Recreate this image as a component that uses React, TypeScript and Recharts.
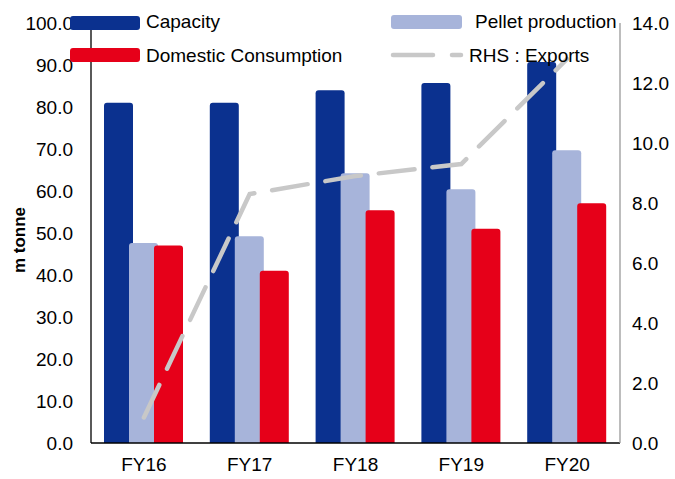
import React from 'react';
import { ComposedChart, Bar, Line, XAxis, YAxis, Legend } from 'recharts';

const categories = ['FY16', 'FY17', 'FY18', 'FY19', 'FY20'];
const capacity = [81.0, 81.0, 84.0, 85.7, 90.7];
const pelletProduction = [47.6, 49.2, 64.2, 60.4, 69.7];
const domesticConsumption = [47.0, 41.0, 55.4, 51.0, 57.1];
const exports = [0.85, 8.3, 8.9, 9.3, 12.8];
const leftTicks = [0, 10, 20, 30, 40, 50, 60, 70, 80, 90, 100];
const rightTicks = [0, 2, 4, 6, 8, 10, 12, 14];

const data = categories.map((c, i) => ({
  name: c,
  capacity: capacity[i],
  pellet: pelletProduction[i],
  domestic: domesticConsumption[i],
  exports: exports[i],
}));

const BLUE = '#0B318F';
const LIGHT = '#A7B4DA';
const RED = '#E60019';
const GRAY = '#C8C8C8';
const FONT = '"Liberation Sans", Arial, sans-serif';

const legendText: React.CSSProperties = {
  position: 'absolute',
  fontFamily: FONT,
  fontSize: 19,
  color: '#000',
  lineHeight: '20px',
  whiteSpace: 'nowrap',
};

const renderLegend = () => (
  <div style={{ position: 'relative', width: 675, height: 70 }}>
    <div style={{ position: 'absolute', left: 70, top: 16, width: 70, height: 14, background: BLUE, borderRadius: 3 }} />
    <div style={{ ...legendText, left: 146, top: 12 }}>Capacity</div>
    <div style={{ position: 'absolute', left: 70, top: 48, width: 70, height: 14, background: RED, borderRadius: 3 }} />
    <div style={{ ...legendText, left: 146, top: 46 }}>Domestic Consumption</div>
    <div style={{ position: 'absolute', left: 391, top: 15, width: 71, height: 14, background: LIGHT, borderRadius: 3 }} />
    <div style={{ ...legendText, left: 475, top: 12 }}>Pellet production</div>
    <svg style={{ position: 'absolute', left: 385, top: 48 }} width={85} height={14}>
      <line x1={8} y1={7} x2={76} y2={7} stroke={GRAY} strokeWidth={4.5} strokeLinecap="round" strokeDasharray="40 19" />
    </svg>
    <div style={{ ...legendText, left: 469, top: 46 }}>RHS : Exports</div>
  </div>
);

const YLabel = () => {
  const cx = 19;
  const cy = 240;
  return (
    <text x={cx} y={cy} transform={`rotate(-90 ${cx} ${cy})`} textAnchor="middle" dominantBaseline="central"
      style={{ fontFamily: FONT, fontSize: 17, fontWeight: 'bold', fill: '#000' }}>
      m tonne
    </text>
  );
};

export default function App() {
  const tickStyle = { fontFamily: FONT, fontSize: 19, fill: '#000' };
  return (
    <div style={{ position: 'absolute', left: 0, top: 0, width: 675, height: 479, background: '#fff' }}>
      <ComposedChart width={675} height={479} data={data} barSize={29} barGap={-4}
        margin={{ top: 23, right: 0, bottom: 6, left: 0 }}>
        <XAxis dataKey="name" tickLine={false} axisLine={{ stroke: '#000', strokeWidth: 1.3 }} tick={tickStyle}
          tickSize={6} tickMargin={9} height={30} />
        <YAxis yAxisId="left" domain={[0, 100]} ticks={leftTicks} interval={0} tickLine={false}
          axisLine={{ stroke: '#000', strokeWidth: 1.3 }} tick={tickStyle} tickSize={6} tickMargin={12}
          tickFormatter={(v: number) => v.toFixed(1)} width={91} label={<YLabel />} />
        <YAxis yAxisId="right" orientation="right" domain={[0, 14]} ticks={rightTicks} interval={0} tickLine={false}
          axisLine={{ stroke: '#999', strokeWidth: 1.3 }} tick={{ ...tickStyle, textAnchor: 'start' }} tickSize={6} tickMargin={6}
          tickFormatter={(v: number) => v.toFixed(1)} width={55} />
        <Bar yAxisId="left" dataKey="capacity" fill={BLUE} radius={[3, 3, 0, 0]} isAnimationActive={false} />
        <Bar yAxisId="left" dataKey="pellet" fill={LIGHT} radius={[3, 3, 0, 0]} isAnimationActive={false} />
        <Bar yAxisId="left" dataKey="domestic" fill={RED} radius={[3, 3, 0, 0]} isAnimationActive={false} />
        <Line yAxisId="right" dataKey="exports" type="linear" stroke={GRAY} strokeWidth={4.5}
          strokeLinecap="round" strokeDasharray="36 18" dot={false} activeDot={false} isAnimationActive={false} />
        <Legend verticalAlign="middle" align="center" layout="horizontal" content={renderLegend}
          wrapperStyle={{ position: 'absolute', left: 0, top: 0, width: 675, height: 70 }} />
      </ComposedChart>
    </div>
  );
}
